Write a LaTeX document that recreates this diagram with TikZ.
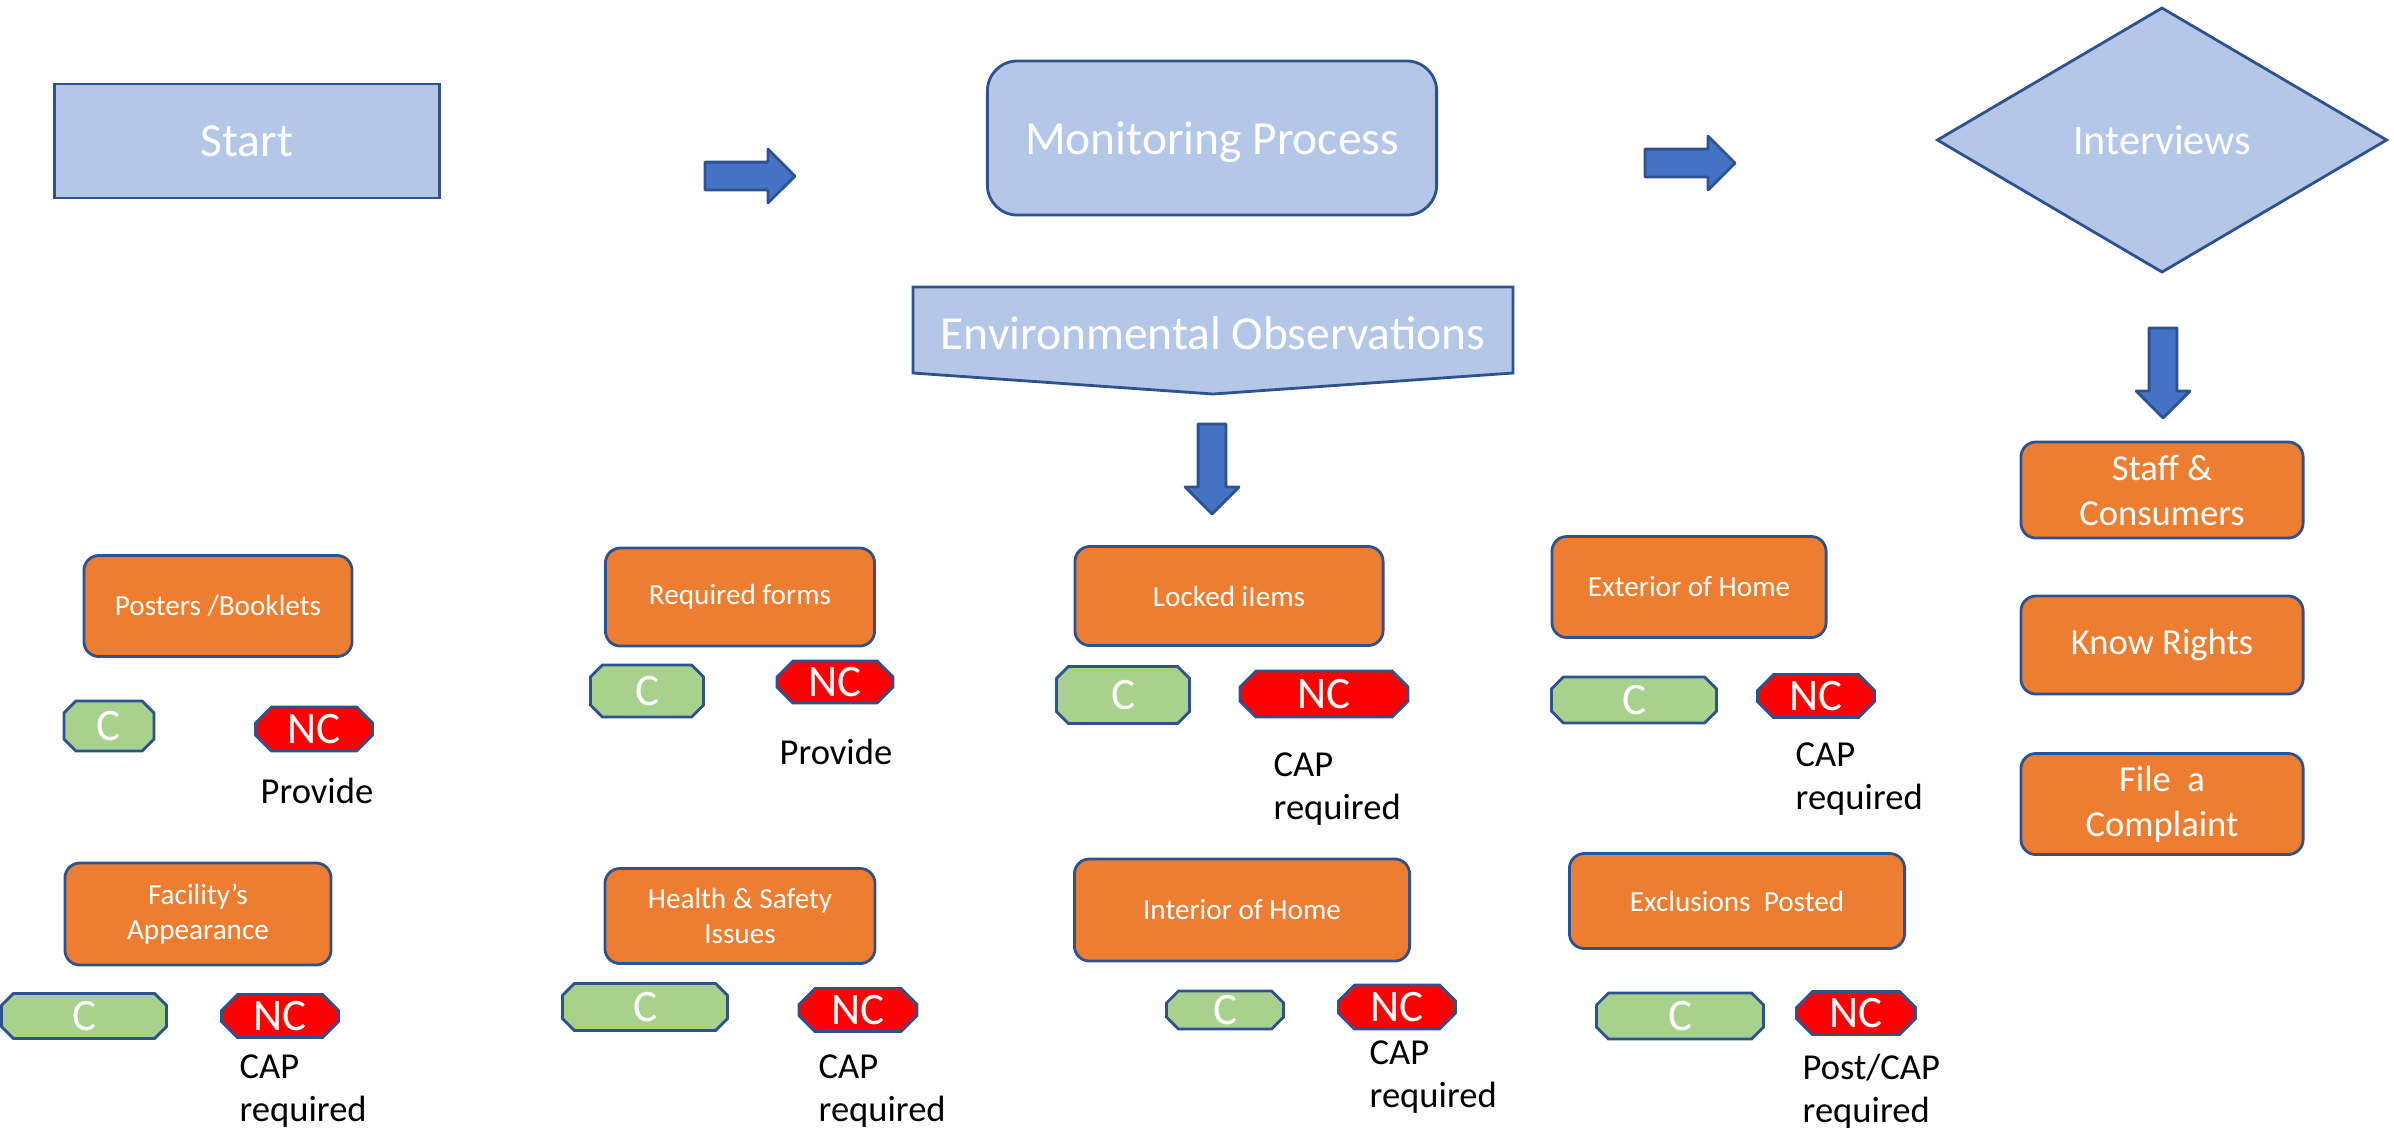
\documentclass[tikz,border=0pt]{standalone}
\usepackage{fontspec}
\setmainfont{Carlito}
\usetikzlibrary{shapes.geometric,shapes.misc,shapes.arrows}
\definecolor{boxblue}{HTML}{B4C7E7}
\definecolor{edgeblue}{HTML}{2F528F}
\definecolor{arrowblue}{HTML}{4472C4}
\definecolor{boxorange}{HTML}{ED7D31}
\definecolor{okgreen}{HTML}{A9D18E}
\definecolor{ncred}{HTML}{FF0000}
\begin{document}
\begin{tikzpicture}[x=0.01cm, y=-0.01cm,
		every node/.style={inner sep=0pt},
		bluebox/.style={draw=edgeblue, fill=boxblue, line width=0.8pt, text=white, font=\fontsize{13.5}{16}\selectfont},
		task/.style={draw=edgeblue, fill=boxorange, line width=0.8pt, rounded corners=0.15cm, text=white, align=center, font=\fontsize{8.3}{10.2}\selectfont},
		bigtask/.style={task, minimum width=2.82cm, font=\fontsize{10.4}{12.8}\selectfont},
		ok/.style={chamfered rectangle, chamfered rectangle sep=0.16cm, text height=0pt, text depth=0pt,
			execute at begin node={\lower0.145cm\hbox\bgroup}, execute at end node={\egroup},
			draw=edgeblue, fill=okgreen, line width=0.8pt, text=white, font=\fontsize{12.8}{14}\selectfont},
		nok/.style={ok, fill=ncred},
		action/.style={anchor=north west, align=left, font=\fontsize{10.4}{12.2}\selectfont},
		blockarrow/.style={single arrow, draw=edgeblue, fill=arrowblue, line width=0.8pt, line join=round, inner sep=0.125cm, minimum width=0pt, minimum height=0.9cm, single arrow head extend=0.13cm, single arrow tip angle=90, single arrow head indent=0pt}]
		\useasboundingbox (0,0) rectangle (2394,1132);
		% top row
		\node[bluebox, minimum width=3.85cm, minimum height=1.14cm] (start) at (247,141) {Start};
		\node[blockarrow] (arrowA) at (743,176) {};
		\node[bluebox, rounded corners=0.3cm, minimum width=4.49cm, minimum height=1.54cm, text depth=0pt] (monitor) at (1212,138) {Monitoring Process};
		\node[blockarrow] (arrowB) at (1683,163) {};
		\node[bluebox, diamond, minimum width=4.5cm, minimum height=2.65cm, font=\fontsize{12}{14}\selectfont] (interviews) at (2162,140) {Interviews};
		% environmental observations
		\path[draw=edgeblue, fill=boxblue, line width=0.8pt] (913,287) -- (1513,287) -- (1513,373) -- (1213,394) -- (913,373) -- cycle;
		\node[text=white, font=\fontsize{13.5}{16}\selectfont] (env) at (1213,333) {Environmental Observations};
		\node[blockarrow, shape border rotate=270] (arrowC) at (1212,462) {};
		\node[blockarrow, shape border rotate=270] (arrowD) at (2163,366) {};
		% checks, first row
		\node[task, minimum width=2.68cm, minimum height=1.01cm] (posters) at (218,606) {Posters /Booklets};
		\node[ok, minimum width=0.90cm, minimum height=0.50cm] (postersC) at (109,726) {C};
		\node[nok, minimum width=1.17cm, minimum height=0.44cm] (postersNC) at (314,729) {NC};
		\node[action] (postersTodo) at (260,777) {Provide};
		\node[task, minimum width=2.69cm, minimum height=0.98cm] (forms) at (740,597) {Required forms};
		\node[ok, minimum width=1.13cm, minimum height=0.52cm] (formsC) at (647,691) {C};
		\node[nok, minimum width=1.16cm, minimum height=0.42cm] (formsNC) at (835,682) {NC};
		\node[action] (formsTodo) at (779,738) {Provide};
		\node[task, minimum width=3.08cm, minimum height=0.99cm] (locked) at (1229,596) {Locked iIems};
		\node[ok, minimum width=1.33cm, minimum height=0.57cm] (lockedC) at (1123,695) {C};
		\node[nok, minimum width=1.68cm, minimum height=0.46cm] (lockedNC) at (1324,694) {NC};
		\node[action] (lockedTodo) at (1273,752) {CAP\\required};
		\node[task, minimum width=2.74cm, minimum height=1.01cm] (exterior) at (1689,587) {Exterior of Home};
		\node[ok, minimum width=1.65cm, minimum height=0.46cm] (exteriorC) at (1634,700) {C};
		\node[nok, minimum width=1.17cm, minimum height=0.43cm] (exteriorNC) at (1816,696) {NC};
		\node[action] (exteriorTodo) at (1795,742) {CAP\\required};
		% checks, second row
		\node[task, minimum width=2.66cm, minimum height=1.02cm] (facility) at (198,914) {Facility’s\\Appearance};
		\node[ok, minimum width=1.65cm, minimum height=0.45cm] (facilityC) at (84,1016) {C};
		\node[nok, minimum width=1.17cm, minimum height=0.43cm] (facilityNC) at (280,1016) {NC};
		\node[action] (facilityTodo) at (239,1054) {CAP\\required};
		\node[task, minimum width=2.70cm, minimum height=0.95cm] (health) at (740,916) {Health \& Safety\\Issues};
		\node[ok, minimum width=1.65cm, minimum height=0.47cm] (healthC) at (645,1007) {C};
		\node[nok, minimum width=1.18cm, minimum height=0.43cm] (healthNC) at (858,1010) {NC};
		\node[action] (healthTodo) at (818,1054) {CAP\\required};
		\node[task, minimum width=3.35cm, minimum height=1.02cm] (interior) at (1242,910) {Interior of Home};
		\node[ok, minimum width=1.17cm, minimum height=0.38cm] (interiorC) at (1225,1010) {C};
		\node[nok, minimum width=1.17cm, minimum height=0.44cm] (interiorNC) at (1397,1007) {NC};
		\node[action] (interiorTodo) at (1369,1040) {CAP\\required};
		\node[task, minimum width=3.35cm, minimum height=0.95cm] (exclusions) at (1737,901) {Exclusions~~Posted};
		\node[ok, minimum width=1.67cm, minimum height=0.46cm] (exclusionsC) at (1680,1016) {C};
		\node[nok, minimum width=1.19cm, minimum height=0.43cm] (exclusionsNC) at (1856,1013) {NC};
		\node[action] (exclusionsTodo) at (1802,1053) {Post/CAP\\required};
		% interviews column
		\node[bigtask, minimum height=0.96cm] (staff) at (2162,490) {Staff \&\\Consumers};
		\node[bigtask, minimum height=0.98cm] (rights) at (2162,645) {Know Rights};
		\node[bigtask, minimum height=1.01cm] (complaint) at (2162,804) {File~~a\\Complaint};
\end{tikzpicture}
\end{document}
